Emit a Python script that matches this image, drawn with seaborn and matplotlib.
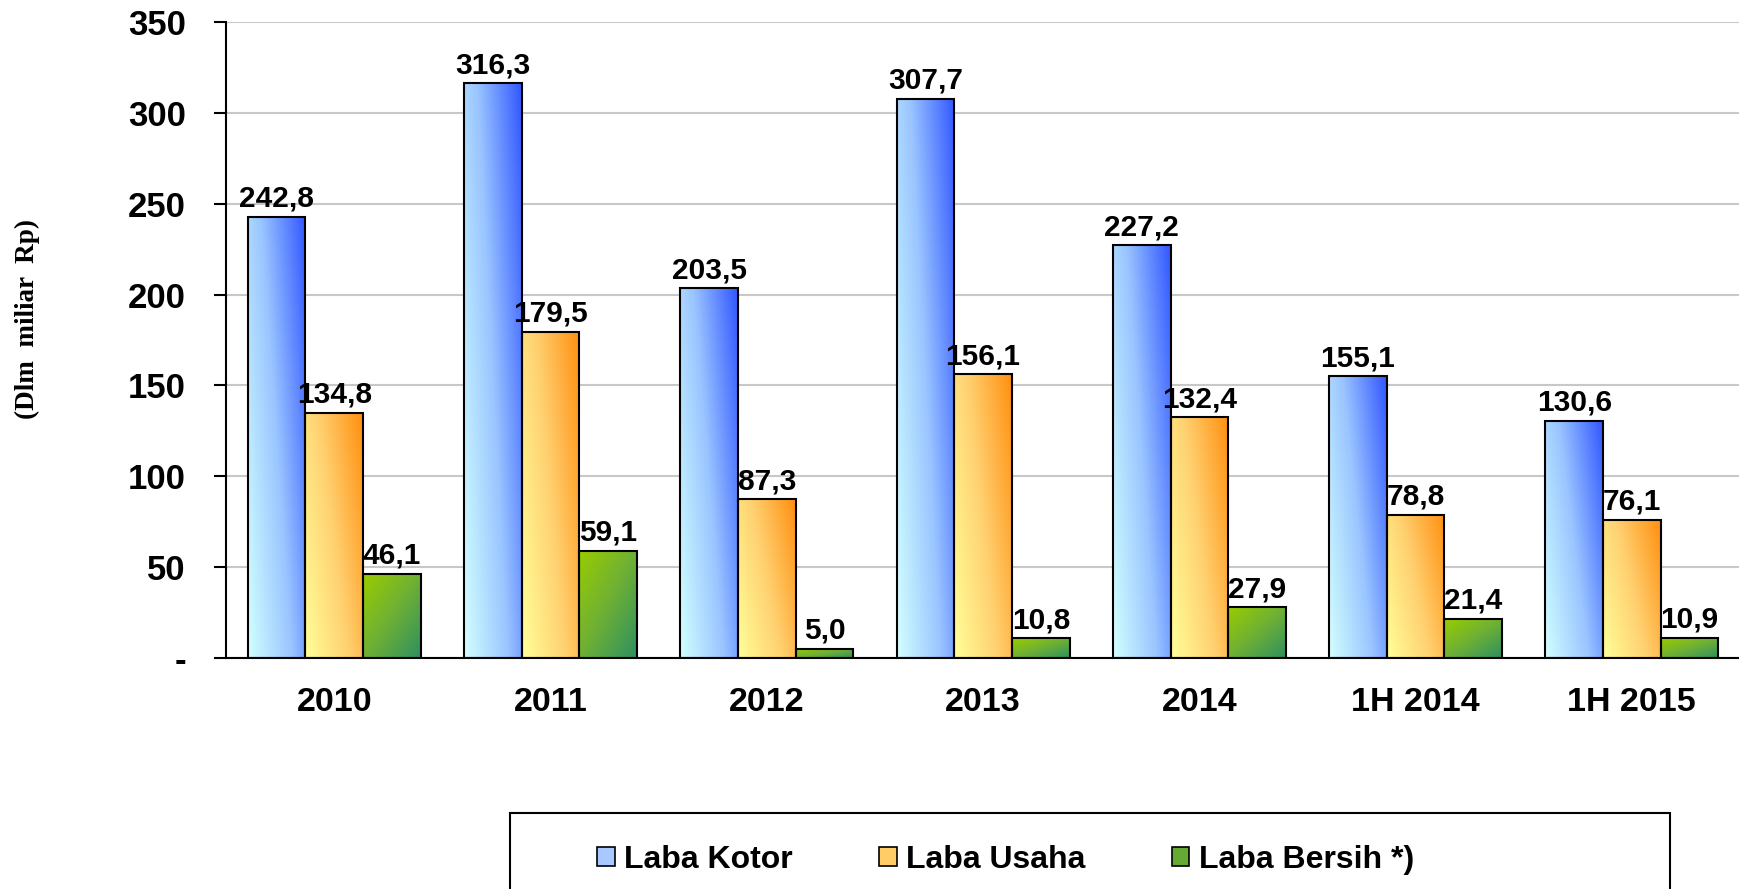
import numpy as np
import pandas as pd
import matplotlib
matplotlib.use('Agg')
import matplotlib.pyplot as plt
import seaborn as sns
from matplotlib.colors import LinearSegmentedColormap
from matplotlib.patches import Patch, Rectangle

# data (miliar Rp)
periods = ['2010', '2011', '2012', '2013', '2014', '1H 2014', '1H 2015']
series_names = ['Laba Kotor', 'Laba Usaha', 'Laba Bersih *)']
laba_kotor = [242.8, 316.3, 203.5, 307.7, 227.2, 155.1, 130.6]
laba_usaha = [134.8, 179.5, 87.3, 156.1, 132.4, 78.8, 76.1]
laba_bersih = [46.1, 59.1, 5.0, 10.8, 27.9, 21.4, 10.9]
y_ticks = [0, 50, 100, 150, 200, 250, 300, 350]
y_tick_labels = ['-', '50', '100', '150', '200', '250', '300', '350']

df = pd.DataFrame({
    'period': periods * 3,
    'series': np.repeat(series_names, len(periods)),
    'value': laba_kotor + laba_usaha + laba_bersih,
})

sns.set_style('white')
plt.rcParams['font.family'] = ['Liberation Sans', 'DejaVu Sans']
plt.rcParams['text.color'] = 'black'
plt.rcParams['xtick.color'] = 'black'
plt.rcParams['ytick.color'] = 'black'

# gradient colour maps (light -> dark)
cmaps = [
    LinearSegmentedColormap.from_list('blue', ['#D2FFFF', '#99C4FF', '#3358FF']),
    LinearSegmentedColormap.from_list('orange', ['#FFFF99', '#FFD070', '#FF9010']),
    LinearSegmentedColormap.from_list('green', ['#99CC00', '#6EB035', '#2E9060']),
]
legend_colors = ['#A8C8FF', '#FFCC66', '#66AA33']

fig = plt.figure(figsize=(17.4, 8.89), dpi=100)
ax = fig.add_axes([0.130, 0.260, 0.870, 0.715])

sns.barplot(data=df, x='period', y='value', hue='series', order=periods,
            hue_order=series_names, width=0.8, ax=ax, legend=False,
            edgecolor='black', linewidth=1.5, err_kws={'linewidth': 0})

gx, gy = np.meshgrid(np.linspace(0, 1, 50), np.linspace(0, 1, 100))
grads = [
    0.65 * gx + 0.35 * gy,        # blue: light bottom-left to dark top-right
    0.65 * gx + 0.35 * gy,        # orange
    0.5 * gx + 0.5 * (1 - gy),    # green: light top-left to dark bottom-right
]

for i, cont in enumerate(ax.containers):
    for bar in cont:
        x0, y0 = bar.get_x(), bar.get_y()
        w, h = bar.get_width(), bar.get_height()
        im = ax.imshow(grads[i], cmap=cmaps[i], vmin=0, vmax=1, origin='lower',
                       extent=[x0, x0 + w, y0, y0 + h], aspect='auto', zorder=2)
        im.set_clip_path(bar)
        bar.set_facecolor('none')
        bar.set_zorder(3)
    labels = [f'{v:.1f}'.replace('.', ',') for v in cont.datavalues]
    ax.bar_label(cont, labels=labels, padding=3, fontsize=21.5, fontweight='bold')

ax.set_xlim(-0.5, len(periods) - 0.5)
ax.set_ylim(0, 350)
ax.set_yticks(y_ticks)
ax.set_yticklabels(y_tick_labels, fontsize=25, fontweight='bold')
ax.yaxis.grid(True, color='#c8c8c8', linewidth=1.5)
ax.set_axisbelow(True)

ax.set_xticks(range(len(periods)))
ax.set_xticklabels(periods, fontsize=24.5, fontweight='bold')
ax.set_xticks(np.arange(-0.5, len(periods), 1), minor=True)
ax.tick_params(axis='x', which='major', length=0, pad=21)
ax.tick_params(axis='x', which='minor', length=9, width=1.5, direction='out', color='black')
ax.tick_params(axis='y', length=9, width=1.5, direction='out', color='black', left=True, pad=20)

for side in ['top', 'right']:
    ax.spines[side].set_visible(False)
for side in ['left', 'bottom']:
    ax.spines[side].set_color('black')
    ax.spines[side].set_linewidth(1.5)

ax.set_xlabel('')
ax.set_ylabel('')
fig.text(0.016, 0.641, '(Dlm  miliar  Rp)', rotation=90, ha='center', va='center',
         fontsize=19.5, fontweight='bold', family=['Liberation Serif', 'DejaVu Serif'])

# legend frame, running off the bottom edge like the original
fig.patches.append(Rectangle((510 / 1740, -0.1), 1160 / 1740, 0.1 + 76 / 889,
                             transform=fig.transFigure, fill=False,
                             edgecolor='black', linewidth=1.5))

handles = [Patch(facecolor=c, edgecolor='black', linewidth=1.2) for c in legend_colors]
fig.legend(handles, series_names, loc='center left',
           bbox_to_anchor=(597 / 1740, 1 - 860 / 889),
           ncol=3, frameon=False, borderpad=0, borderaxespad=0,
           prop={'weight': 'bold', 'size': 23},
           handlelength=0.55, handleheight=0.55, handletextpad=0.3,
           columnspacing=2.7)

fig.savefig('out.png', dpi=100)
